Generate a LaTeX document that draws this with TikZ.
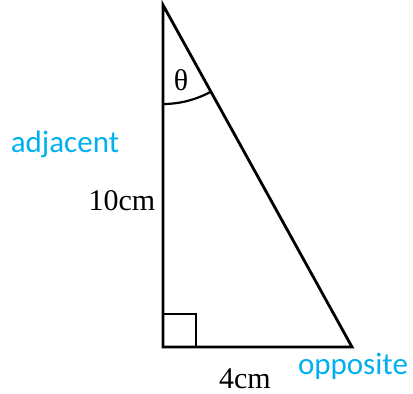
\documentclass[tikz,border=0pt]{standalone}
\usepackage{fontspec}
\setmainfont{Liberation Serif}
\newfontfamily\sidefont{Carlito}
\usepackage{tikz}
\usetikzlibrary{positioning,calc}
\definecolor{sideblue}{HTML}{00B0F0}

\begin{document}
\begin{tikzpicture}[
    x=1pt, y=-1pt,
    edge/.style     ={draw=black, line width=2.8pt, line join=miter},
    thin edge/.style={draw=black, line width=2.2pt},
    measure/.style  ={font=\fontsize{30}{33}\selectfont, text=black, inner sep=0pt},
    side/.style     ={font=\sidefont\fontsize{31}{34}\selectfont, text=sideblue, inner sep=0pt},
  ]
  \useasboundingbox (0,0) rectangle (413,394);
  \coordinate (top)   at (163, 5);
  \coordinate (right) at (163, 347);
  \coordinate (far)   at (352, 347);
  \draw[edge] (top) -- (right) -- (far) -- cycle;
  \draw[thin edge] (right) ++(0,-33) -| ++(33,33);
  \draw[thin edge] ([shift={(90:99)}]top) arc[start angle=90, end angle=61.07, radius=99];
  \node[measure] (theta) at (181, 80) {θ};
  \node[side]    (adj)   at (65, 144) {adjacent};
  \node[measure] (len)   at (122, 201) {10cm};
  \node[measure] (base)  at (245, 379) {4cm};
  \node[side]    (opp)   at (353, 366) {opposite};
\end{tikzpicture}
\end{document}
